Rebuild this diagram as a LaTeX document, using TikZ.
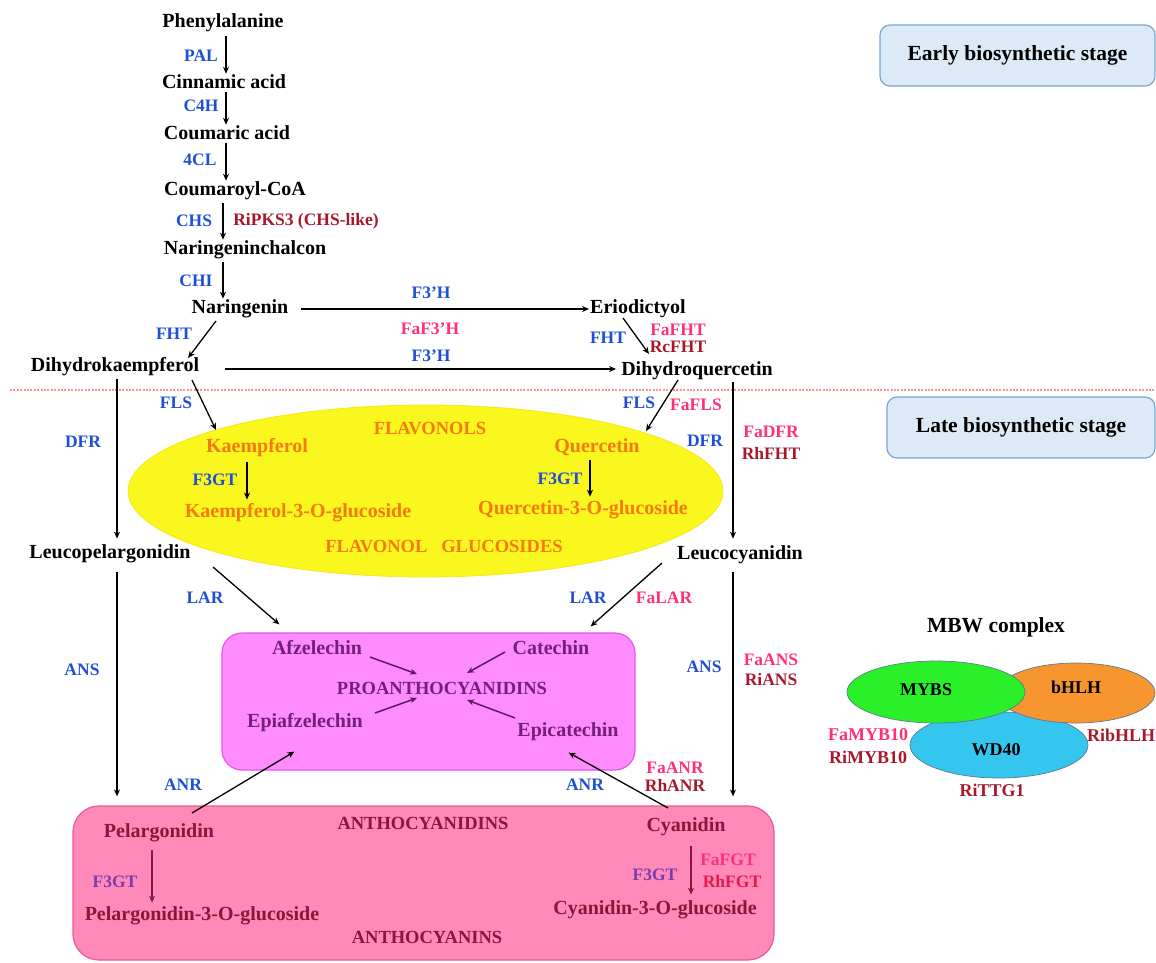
\documentclass[tikz,border=0pt]{standalone}
\usepackage{fontspec}
\setmainfont{Liberation Serif}
\usetikzlibrary{arrows.meta,calc,shapes.geometric}
\definecolor{eblue}{HTML}{1F4FD6}
\definecolor{epink}{HTML}{FF2F78}
\definecolor{edred}{HTML}{A8182A}
\definecolor{forange}{HTML}{F57A10}
\definecolor{fyellow}{HTML}{FAF71E}
\definecolor{pfill}{HTML}{FF8CFF}
\definecolor{pdraw}{HTML}{E655E6}
\definecolor{ptext}{HTML}{74207A}
\definecolor{afill}{HTML}{FF8AB9}
\definecolor{adraw}{HTML}{E85A95}
\definecolor{atext}{HTML}{8C1538}
\definecolor{apurple}{HTML}{7A3DB0}
\definecolor{ared}{HTML}{E41B4A}
\definecolor{sfill}{HTML}{DCEAF7}
\definecolor{sdraw}{HTML}{7AA6CF}
\definecolor{mgreen}{HTML}{2AF02A}
\definecolor{morange}{HTML}{F7962F}
\definecolor{mcyan}{HTML}{35C6F0}
\definecolor{dashred}{HTML}{FF9494}
\definecolor{mline}{HTML}{5A7A90}
\begin{document}
\begin{tikzpicture}[x=1pt,y=-1pt,
  nm/.style={font=\fontsize{20}{22}\selectfont\bfseries, inner sep=1pt},
  capt/.style={font=\fontsize{18.5}{20}\selectfont\bfseries, inner sep=1pt},
  lb/.style={font=\fontsize{17.5}{19}\selectfont\bfseries, inner sep=0pt},
  bl/.style={lb,text=eblue},
  pk/.style={lb,text=epink},
  dr/.style={lb,text=edred},
  ml/.style={font=\fontsize{18}{20}\selectfont\bfseries, inner sep=0pt},
  arr/.style={-{Stealth[length=7pt,width=6pt]}, line width=1.3pt},
  parr/.style={arr, draw=ptext!80!black, line width=1.5pt},
  aarr/.style={arr, draw=atext},
  stage/.style={draw=sdraw, fill=sfill, rounded corners=10pt, line width=1.2pt,
    font=\fontsize{21.5}{23}\selectfont\bfseries, inner sep=0pt},
  mbw/.style={ellipse, inner sep=0pt, line width=0.7pt, draw=mline, font=\fontsize{18}{20}\selectfont\bfseries}
]
\useasboundingbox (0,0) rectangle (1156,963);

% ---------- backgrounds ----------
\node[stage, minimum width=275pt, minimum height=61pt] (early) at (1017.5,55.5) {Early biosynthetic stage};
\node[stage, minimum width=268pt, minimum height=61pt] (late) at (1021,427.5) {Late biosynthetic stage};
\coordinate (dashL) at (10,390);
\coordinate (dashR) at (1156,390);
\draw[dashred, line width=2.2pt, dash pattern=on 2pt off 1.4pt] (dashL) -- (dashR);

\node[ellipse, fill=fyellow, draw=fyellow!85!orange, line width=0.8pt, inner sep=0pt,
      minimum width=595pt, minimum height=172pt] (flav) at (425.5,491) {};
\node[draw=pdraw, fill=pfill, rounded corners=20pt, line width=1.2pt,
      minimum width=413pt, minimum height=137pt, inner sep=0pt] (pbox) at (428.5,701.5) {};
\node[draw=adraw, fill=afill, rounded corners=26pt, line width=1.2pt,
      minimum width=701pt, minimum height=154pt, inner sep=0pt] (abox) at (423.5,883) {};

% ---------- early pathway ----------
\node[nm] (phe)  at (223,23)  {Phenylalanine};
\node[nm] (cin)  at (224,82)  {Cinnamic acid};
\node[nm] (cou)  at (227,133) {Coumaric acid};
\node[nm] (coa)  at (235,191) {Coumaroyl-CoA};
\node[nm] (chal) at (245,250) {Naringeninchalcon};
\node[nm] (nar)  at (240,309) {Naringenin};
\node[nm] (eri)  at (638,309) {Eriodictyol};
\node[nm] (dhk)  at (115,367) {Dihydrokaempferol};
\node[nm] (dhq)  at (697,371) {Dihydroquercetin};
\node[nm] (lpg)  at (110,554) {Leucopelargonidin};
\node[nm] (lcy)  at (740,555) {Leucocyanidin};

\node[bl] (lpal) at (201,56)  {PAL};
\node[bl] (lc4h) at (201,106) {C4H};
\node[bl] (l4cl) at (200,160) {4CL};
\node[bl] (lchs) at (194,221) {CHS};
\node[dr] (lpks) at (306,221) {RiPKS3 (CHS-like)};
\node[bl] (lchi) at (196,281) {CHI};
\node[bl] (lf3a) at (431,293) {F3’H};
\node[pk] (lff3) at (430,329) {FaF3’H};
\node[bl] (lf3b) at (431,356) {F3’H};
\node[bl] (lfht) at (174,334) {FHT};
\node[bl] (lfhtb) at (608,338) {FHT};
\node[pk] (lfafht) at (678,330) {FaFHT};
\node[dr] (lrcfht) at (678,347) {RcFHT};

% ---------- flavonols ----------
\node[capt, text=forange] (tfl)  at (430,429) {FLAVONOLS};
\node[nm, text=forange]  (kae)  at (257,448) {Kaempferol};
\node[nm, text=forange]  (que)  at (597,447) {Quercetin};
\node[nm, text=forange]  (k3g)  at (298,513) {Kaempferol-3-O-glucoside};
\node[nm, text=forange]  (q3g)  at (583,510) {Quercetin-3-O-glucoside};
\node[capt, text=forange] (tflg) at (444,547) {FLAVONOL\hspace{0.75em}GLUCOSIDES};
\node[bl] (lf3gk) at (215,480) {F3GT};
\node[bl] (lf3gq) at (560,479) {F3GT};
\node[bl] (lflsa) at (176,403) {FLS};
\node[bl] (lflsb) at (639,403) {FLS};
\node[pk] (lfafls) at (696,405) {FaFLS};
\node[bl] (ldfra) at (83,442) {DFR};
\node[bl] (ldfrb) at (705,441) {DFR};
\node[pk] (lfadfr) at (771,432) {FaDFR};
\node[dr] (lrhfht) at (771,453) {RhFHT};

% ---------- proanthocyanidins ----------
\node[nm, text=ptext] (afz) at (317,648) {Afzelechin};
\node[nm, text=ptext] (cat) at (551,648) {Catechin};
\node[capt, text=ptext] (pro) at (442,688) {PROANTHOCYANIDINS};
\node[nm, text=ptext] (epa) at (305,723) {Epiafzelechin};
\node[nm, text=ptext] (epc) at (568,732) {Epicatechin};
\node[bl] (llara) at (205,598) {LAR};
\node[bl] (llarb) at (588,598) {LAR};
\node[pk] (lfalar) at (664,598) {FaLAR};
\node[bl] (lansa) at (82,670) {ANS};
\node[bl] (lansb) at (704,667) {ANS};
\node[pk] (lfaans) at (771,660) {FaANS};
\node[dr] (lrians) at (771,680) {RiANS};
\node[bl] (lanra) at (183,785) {ANR};
\node[bl] (lanrb) at (585,785) {ANR};
\node[pk] (lfaanr) at (675,768) {FaANR};
\node[dr] (lrhanr) at (675,785) {RhANR};

% ---------- anthocyanidins ----------
\node[nm, text=atext] (pel) at (159,833) {Pelargonidin};
\node[capt, text=atext] (tan) at (423,823) {ANTHOCYANIDINS};
\node[nm, text=atext] (cya) at (686,827) {Cyanidin};
\node[nm, text=atext] (p3g) at (202,916) {Pelargonidin-3-O-glucoside};
\node[nm, text=atext] (c3g) at (655,910) {Cyanidin-3-O-glucoside};
\node[capt, text=atext] (tacy) at (427,937) {ANTHOCYANINS};
\node[lb, text=apurple] (lf3gp) at (115,882) {F3GT};
\node[lb, text=apurple] (lf3gc) at (655,875) {F3GT};
\node[lb, text=epink] (lfafgt) at (728,860) {FaFGT};
\node[lb, text=ared] (lrhfgt) at (732,882) {RhFGT};

% ---------- MBW complex ----------
\node[font=\fontsize{21.5}{23}\selectfont\bfseries] (tmbw) at (996,627) {MBW complex};
\node[mbw, fill=mcyan, minimum width=178pt, minimum height=66pt] (wd) at (999,745) {};
\node[mbw, fill=morange, minimum width=158pt, minimum height=60pt] (bh) at (1076,693) {};
\node[mbw, fill=mgreen, minimum width=178pt, minimum height=62pt] (my) at (936,692) {};
\node[ml] (tmy) at (926,690) {MYBS};
\node[ml] (tbh) at (1076,687) {bHLH};
\node[ml] (twd) at (996,750) {WD40};
\node[ml, text=epink] (lfamyb) at (868,735) {FaMYB10};
\node[ml, text=edred] (lrimyb) at (868,757) {RiMYB10};
\node[ml, text=edred] (lribh) at (1121,735) {RibHLH};
\node[ml, text=edred] (lritt) at (992,790) {RiTTG1};

% ---------- column coordinates ----------
\coordinate (colA) at (226,0);
\coordinate (colB) at (223,0);
\coordinate (colL) at (117,0);
\coordinate (colR) at (733,0);
\coordinate (colK) at (247,0);
\coordinate (colQ) at (590,0);
\coordinate (colP) at (152,0);
\coordinate (colC) at (691,0);

% ---------- arrows ----------
\draw[arr, shorten <=3pt] (phe.south -| colA) -- (cin.north -| colA);
\draw[arr, shorten <=2pt] (cin.south -| colA) -- (cou.north -| colA);
\draw[arr, shorten <=2pt] (cou.south -| colA) -- (coa.north -| colA);
\draw[arr, shorten <=2pt] (coa.south -| colB) -- (chal.north -| colB);
\draw[arr, shorten <=2pt] (chal.south -| colB) -- (nar.north -| colB);
\draw[arr, shorten <=11pt] (nar.east) -- (eri.west);
\draw[arr] ($(dhk.east)+(25,2)$) -- ($(dhq.west)+(-4,-2)$);
\draw[arr] ($(nar)+(-24,12)$) -- ($(dhk)+(73,-9)$);
\draw[arr] ($(eri)+(-15,9)$) -- ($(dhq)+(-48,-17)$);
\draw[arr] ($(dhk)+(77,13)$) -- ($(kae)+(-41,-18)$);
\draw[arr] ($(dhq)+(-19,9)$) -- ($(que)+(49,-16)$);
\draw[arr, shorten <=2pt, shorten >=5pt] (dhk.south -| colL) -- (lpg.north -| colL);
\draw[arr, shorten <=1pt, shorten >=6pt] (dhq.south -| colR) -- (lcy.north -| colR);
\draw[arr, shorten <=4pt, shorten >=3pt] (kae.south -| colK) -- (k3g.north -| colK);
\draw[arr, shorten <=3pt, shorten >=3pt] (que.south -| colQ) -- (q3g.north -| colQ);
\draw[arr, shorten <=8pt] (lpg.south -| colL) -- ($(abox.north -| colL)+(0,-9)$);
\draw[arr, shorten <=7pt] (lcy.south -| colR) -- ($(abox.north -| colR)+(0,-9)$);
\draw[arr] ($(lpg)+(103,13)$) -- ($(pbox.north west)+(58,-8)$);
\draw[arr] ($(lcy)+(-78,8)$) -- ($(pbox.north east)+(-45,-6)$);
\draw[parr] ($(afz)+(53,9)$) -- ($(pro)+(-25,-14)$);
\draw[parr] ($(cat)+(-46,4)$) -- ($(pro)+(25,-15)$);
\draw[parr] ($(epa)+(70,-10)$) -- ($(pro)+(-25,10)$);
\draw[parr] ($(epc)+(-53,-14)$) -- ($(pro)+(25,12)$);
\draw[arr] ($(pel)+(33,-20)$) -- ($(pbox.south west)+(73,-19)$);
\draw[arr] ($(cya)+(-18,-19)$) -- ($(pbox.south east)+(-67,-18)$);
\draw[aarr, line width=1.1pt, shorten <=7pt, shorten >=3pt] (pel.south -| colP) -- (p3g.north -| colP);
\draw[aarr, line width=1.1pt, shorten <=9pt, shorten >=5pt] (cya.south -| colC) -- (c3g.north -| colC);
\end{tikzpicture}
\end{document}
